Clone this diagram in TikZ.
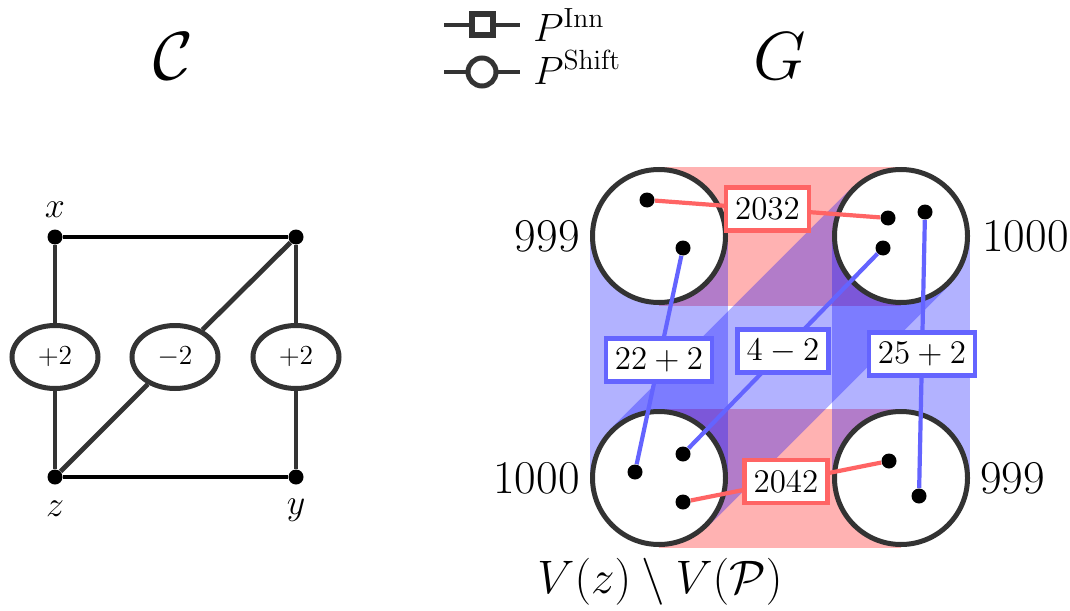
\RequirePackage{fix-cm}
\documentclass[tikz,border=0pt]{standalone}
\usetikzlibrary{shapes.geometric,backgrounds}
\definecolor{ink}{HTML}{333333}
\definecolor{redline}{HTML}{FF6464}
\definecolor{blueline}{HTML}{6464FF}
\tikzset{
  vdot/.style={circle,fill=black,inner sep=0pt,minimum size=7.5pt},
  part/.style={circle,draw=ink,fill=white,line width=2.5pt,inner sep=0pt,minimum size=66.5pt},
  wt/.style={ellipse,draw=ink,fill=white,text=black,line width=2.5pt,inner sep=0pt,
    minimum width=43pt,minimum height=31.5pt,font=\fontsize{13.75}{16}\selectfont},
  gedge/.style={ink,line width=2.4pt},
  hedge/.style={black,line width=2.4pt},
  redband/.style={red,opacity=.3,line width=69.5pt},
  blueband/.style={blue,opacity=.3,line width=69pt},
  rededge/.style={redline,line width=2.1pt},
  blueedge/.style={blueline,line width=2.1pt},
  redbox/.style={draw=redline,fill=white,text=black,line width=2.2pt,inner xsep=4.5pt,minimum height=21.5pt},
  bluebox/.style={draw=blueline,fill=white,text=black,line width=2.2pt,inner xsep=4.5pt,minimum height=21.5pt},
  sqmark/.style={rectangle,draw=ink,fill=white,line width=3pt,inner sep=0pt,minimum size=10.5pt},
  cmark/.style={circle,draw=ink,fill=white,line width=2.5pt,inner sep=0pt,minimum size=14pt},
  bigtxt/.style={font=\fontsize{23.5}{28}\selectfont}
}
\begin{document}
\begin{tikzpicture}[x=0.5pt, y=-0.5pt, every node/.style={font=\fontsize{16.5}{20}\selectfont}]
    \useasboundingbox (0,0) rectangle (1070,610);
    % titles
    \node[font=\fontsize{34}{40}\selectfont] (ttlC) at (173,56) {$\mathcal{C}$};
    \node[font=\fontsize{34}{40}\selectfont] (ttlG) at (780,56) {$G$};
    % legend
    \coordinate (la) at (444,25); \coordinate (lb) at (520,25);
    \coordinate (lc) at (444,72); \coordinate (ld) at (520,72);
    \draw[gedge] (la) -- node[sqmark] (inn) {} (lb);
    \draw[gedge] (lc) -- node[cmark] (shf) {} (ld);
    \node[anchor=base west, inner sep=0pt, font=\fontsize{19.75}{24}\selectfont] (linn) at (533,42) {$P^{\mathrm{Inn}}$};
    \node[anchor=base west, inner sep=0pt, font=\fontsize{19.75}{24}\selectfont] (lshf) at (533,84) {$P^{\mathrm{Shift}}$};
    % the graph C
    \node[vdot] (x) at (55,237) {};
    \node[vdot] (w) at (296,237) {};
    \node[vdot] (z) at (55,477) {};
    \node[vdot] (y) at (296,477) {};
    \node[anchor=base, inner sep=0pt, font=\fontsize{18}{21}\selectfont] (xl) at (55,217) {$x$};
    \node[anchor=base, inner sep=0pt, font=\fontsize{18}{21}\selectfont] (zl) at (55,516) {$z$};
    \node[anchor=base, inner sep=0pt, font=\fontsize{18}{21}\selectfont] (yl) at (296,514) {$y$};
    \node[wt] (e1) at (55,357) {$+2$};
    \node[wt] (e2) at (175,357) {$-2$};
    \node[wt] (e3) at (296,357) {$+2$};
    \draw[gedge] (x) -- (e1) (e1) -- (z);
    \draw[gedge] (w) -- (e2) (e2) -- (z);
    \draw[gedge] (w) -- (e3) (e3) -- (y);
    \draw[hedge] (x) -- (w) (z) -- (y);
    % the graph G
    \node[part] (tl) at (659,236) {};
    \node[part] (tr) at (901,236) {};
    \node[part] (bl) at (659,478) {};
    \node[part] (br) at (901,478) {};
    \begin{scope}[on background layer]
      \draw[redband] (tl.center) -- (tr.center);
      \draw[redband] (bl.center) -- (br.center);
      \draw[blueband] (tl.center) -- (bl.center);
      \draw[blueband] (tr.center) -- (br.center);
      \draw[blueband] (bl.center) -- (tr.center);
    \end{scope}
    \node[bigtxt, anchor=east, inner xsep=5pt] (ntl) at (tl.west) {999};
    \node[bigtxt, anchor=west, inner xsep=6pt] (ntr) at (tr.east) {1000};
    \node[bigtxt, anchor=east, inner xsep=5pt] (nbl) at (bl.west) {1000};
    \node[bigtxt, anchor=west, inner xsep=5pt] (nbr) at (br.east) {999};
    \node[bigtxt, anchor=base, inner sep=0pt] (vlab) at (660,593) {$V(z)\setminus V(\mathcal{P})$};
    % vertices inside the parts
    \node[vdot] (a1) at (647,200) {};
    \node[vdot] (a2) at (683,248) {};
    \node[vdot] (b1) at (888,218) {};
    \node[vdot] (b2) at (925,212) {};
    \node[vdot] (b3) at (883,248) {};
    \node[vdot] (c1) at (635,472) {};
    \node[vdot] (c2) at (683,454) {};
    \node[vdot] (c3) at (683,502) {};
    \node[vdot] (d1) at (889,461) {};
    \node[vdot] (d2) at (919,496) {};
    % paths with their weights
    \draw[rededge] (a1) -- node[redbox] (k1) {$2032$} (b1);
    \draw[blueedge] (a2) -- node[bluebox] (k2) {$22+2$} (c1);
    \draw[blueedge] (b3) -- node[bluebox] (k3) {$4-2$} (c2);
    \draw[blueedge] (b2) -- node[bluebox] (k4) {$25+2$} (d2);
    \draw[rededge] (c3) -- node[redbox] (k5) {$2042$} (d1);
\end{tikzpicture}
\end{document}
